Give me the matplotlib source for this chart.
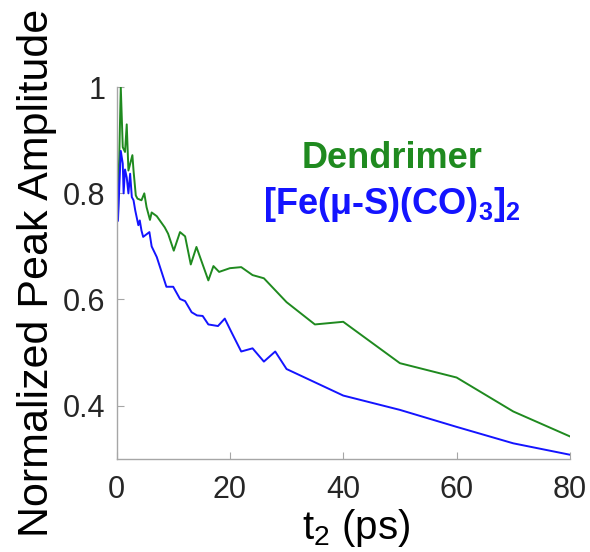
import matplotlib
matplotlib.use("Agg")
import matplotlib.pyplot as plt

plt.rcParams['font.family'] = ['Liberation Sans', 'DejaVu Sans']
plt.rcParams['mathtext.default'] = 'regular'
plt.rcParams['mathtext.fontset'] = 'custom'
plt.rcParams['mathtext.rm'] = 'Liberation Sans'
plt.rcParams['mathtext.bf'] = 'Liberation Sans:bold'

# Dendrimer trace
t_dend = [0, 0.25, 0.75, 1.1, 1.5, 1.8, 2.1, 2.8, 3.0, 3.4, 3.7, 4.4, 4.9, 5.3,
          5.9, 6.2, 7.1, 8.5, 9.1, 10.1, 11.2, 12.1, 13.1, 14.1, 16.2, 17.1,
          18.1, 20, 22, 24, 26, 30, 35, 40, 50, 60, 70, 80]
amp_dend = [0.93, 0.755, 1.0, 0.887, 0.878, 0.93, 0.843, 0.872, 0.843, 0.796,
            0.79, 0.787, 0.80, 0.774, 0.75, 0.764, 0.757, 0.736, 0.724, 0.692,
            0.727, 0.719, 0.666, 0.699, 0.636, 0.663, 0.652, 0.659, 0.661,
            0.646, 0.640, 0.595, 0.553, 0.558, 0.480, 0.453, 0.389, 0.342]

# [Fe(mu-S)(CO)3]2 trace
t_fe = [0, 0.25, 0.75, 1.1, 1.25, 1.5, 1.8, 2.1, 2.4, 2.7, 3.0, 3.3, 3.85, 4.1,
        4.4, 4.7, 5.8, 6.2, 7.1, 8.8, 10, 11.2, 12.1, 13.25, 14.2, 15.2, 16.2,
        17.9, 19.1, 20.3, 22, 24, 26, 28, 30, 35, 40, 50, 60, 70, 80]
amp_fe = [0.925, 0.748, 0.88, 0.856, 0.80, 0.845, 0.83, 0.80, 0.837, 0.793,
          0.787, 0.768, 0.74, 0.749, 0.73, 0.718, 0.727, 0.70, 0.68, 0.624,
          0.624, 0.601, 0.597, 0.576, 0.570, 0.569, 0.553, 0.550, 0.564,
          0.538, 0.502, 0.508, 0.483, 0.502, 0.469, 0.444, 0.419, 0.392,
          0.360, 0.329, 0.3075]

x_ticks = [0, 20, 40, 60, 80]
y_ticks = [0.4, 0.6, 0.8, 1.0]
y_ticklabels = ['0.4', '0.6', '0.8', '1']

green = '#1f8a1f'
blue = '#1414ff'
axis_gray = '#a6a6a6'
text_gray = '#262626'

fig = plt.figure(figsize=(5.9, 5.52), dpi=100)
ax = fig.add_axes([0.1975, 0.169, 0.7685, 0.673])

ax.plot(t_dend, amp_dend, color=green, lw=1.4)
ax.plot(t_fe, amp_fe, color=blue, lw=1.4)

ax.set_xlim(0, 80)
ax.set_ylim(0.3, 1.0)
ax.set_xticks(x_ticks)
ax.set_yticks(y_ticks)
ax.set_yticklabels(y_ticklabels)

for side in ('top', 'right'):
    ax.spines[side].set_visible(False)
for side in ('left', 'bottom'):
    ax.spines[side].set_color(axis_gray)
    ax.spines[side].set_linewidth(1.0)

ax.tick_params(direction='in', length=5, width=0.8, color=axis_gray,
               labelsize=22, labelcolor=text_gray, pad=8)
ax.tick_params(axis='x', pad=12)

ax.set_xlabel('t$_2$ (ps)', fontsize=29, color='black')
ax.xaxis.set_label_coords(0.528, -0.131)
ax.set_ylabel('Normalized Peak Amplitude', fontsize=31, color='black', labelpad=4)

ax.text(48.58, 0.8485, 'Dendrimer', color=green, fontsize=26,
        fontweight='bold', ha='center', va='baseline')
ax.text(48.6, 0.7617, r'[Fe(μ-S)(CO)$_\mathbf{3}$]$_\mathbf{2}$', color=blue,
        fontsize=26, fontweight='bold', ha='center', va='baseline')

fig.savefig('out.png', dpi=100)
